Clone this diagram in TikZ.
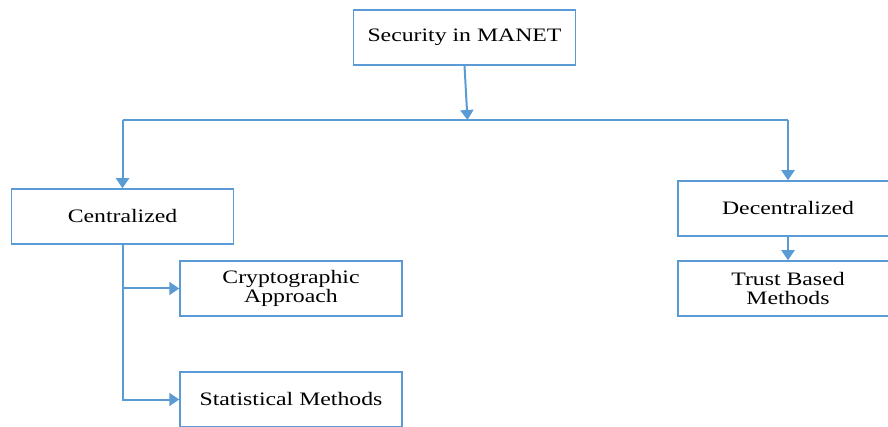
\documentclass[tikz,border=0pt]{standalone}
\usepackage{fontspec}
\setmainfont{Liberation Serif}[FakeStretch=1.25]
\usetikzlibrary{arrows.meta}
\definecolor{lineblue}{HTML}{5B9BD5}
\tikzset{
  box/.style={draw=lineblue, line width=1.5pt, fill=white, minimum width=222pt, minimum height=55pt, inner sep=0pt, align=center, font=\fontsize{19}{21}\selectfont},
  conn/.style={draw=lineblue, line width=2pt},
  arr/.style={conn, -{Triangle[width=13pt,length=10pt]}}
}
\begin{document}
\begin{tikzpicture}[x=1pt,y=-1pt]
\useasboundingbox (0,0) rectangle (888,427);
\clip (0,0) rectangle (888,427);
\fill[white] (0,0) rectangle (888,427);
\node[box] (sec) at (464.5,37.5) {Security in MANET};
\node[box] (cen) at (122.5,216.5) {Centralized};
\node[box] (cry) at (291,288.5) {Cryptographic\\[-2pt]Approach};
\node[box] (stat) at (291,399.5) {Statistical Methods};
\node[box, minimum width=220pt] (dec) at (788,208.5) {Decentralized};
\node[box, minimum width=220pt] (tru) at (788,288.5) {Trust Based\\[-2pt]Methods};
\coordinate (j) at (467.5,120);
\coordinate (bl) at (122.5,120);
\coordinate (br) at (788,120);
\draw[arr] (sec.south) -- (j);
\draw[conn] (bl) -- (br);
\draw[arr] (bl) -- (cen.north);
\draw[arr] (br) -- (dec.north);
\draw[arr] (dec.south) -- (tru.north);
\draw[arr] (cen.south) |- (cry.west);
\draw[arr] (cen.south) |- (stat.west);
\end{tikzpicture}
\end{document}
